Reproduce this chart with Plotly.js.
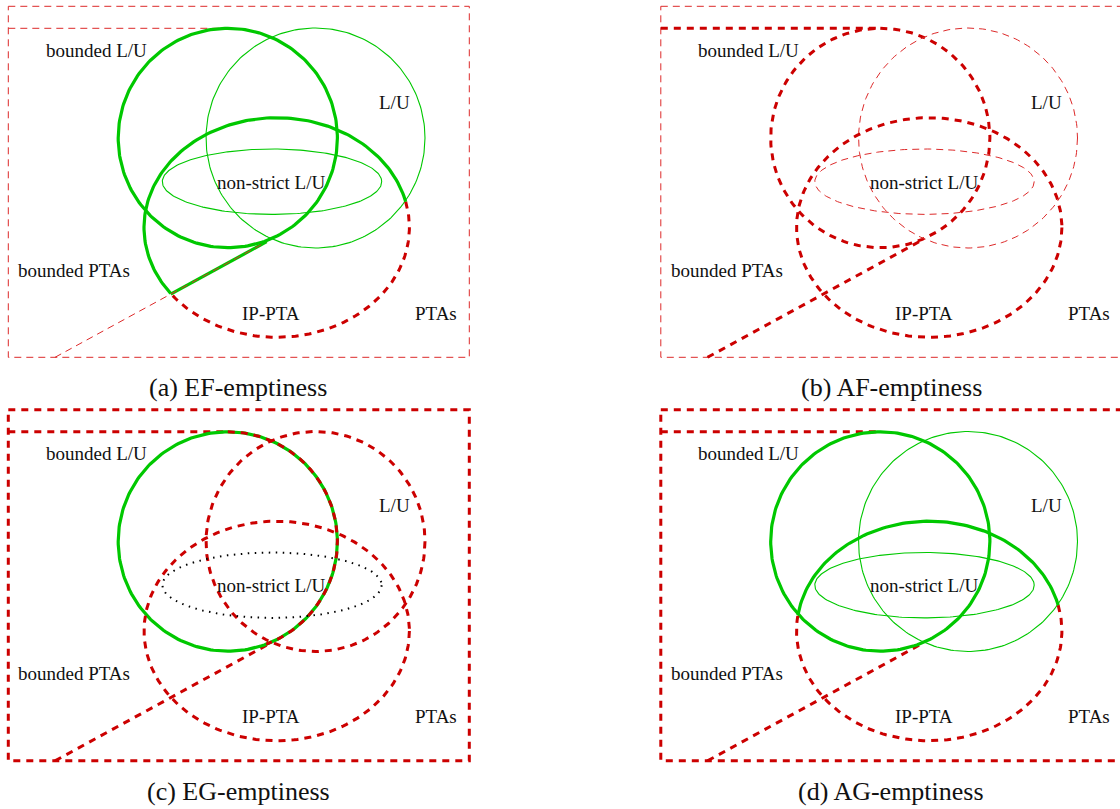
<!DOCTYPE html>
<html>
<head>
<meta charset="utf-8">
<script src="https://cdn.plot.ly/plotly-3.0.1.min.js"></script>
<style>
html,body{margin:0;padding:0;background:#fff;}
#chart{width:1120px;height:809px;}
</style>
</head>
<body>
<div id="chart"></div>
<script>
// ---- data ----
const panelCaptions = ['(a) EF-emptiness', '(b) AF-emptiness', '(c) EG-emptiness', '(d) AG-emptiness'];
const regionLabels = ['bounded L/U', 'L/U', 'non-strict L/U', 'bounded PTAs', 'IP-PTA', 'PTAs'];
const labelX = [96, 394, 271, 74, 271, 436];
const labelY = [50, 102, 182, 270, 313, 313];

// class ellipses (one panel's own coordinates): bounded L/U, L/U, non-strict L/U, IP-PTA
const ellipseNames = ['bounded L/U', 'L/U', 'non-strict L/U', 'IP-PTA'];
const ellipseCx = [227.8, 315.5, 272, 276.7];
const ellipseCy = [138, 138, 181.7, 227.5];
const ellipseRx = [109.6, 109.5, 109.7, 132.7];
const ellipseRy = [109.7, 110, 32.7, 109.8];

// PTAs box and bounded-PTAs border
const ptasBoxX = [8.3, 469.3];
const ptasBoxY = [6.3, 357.3];
const boundedTopX = [8.3, 227.8];
const boundedTopY = [28.3, 28.3];
const diagonalX = [55, 266.7];
const diagonalY = [357.3, 241.7];

// arc split angles (degrees) where decidable borders change
const ipSplitA = [143, 346.4];   // EF: green from..to
const ipSplitD = [188.3, 346.4]; // AG: green from..to
const bluOverlayC = [-90, 69.5]; // EG: red dashed over green

// panel placement
const panelDX = [0, 652.5, 0, 652.5];
const panelDY = [0, 0, 403.5, 403.5];
const captionX = [238, 891, 238, 891];
const captionY = [387, 387, 791, 791];

// ---- styles ----
const GREEN = '#00c800', RED = '#cc0000';
const S = {
  thickG: {color: GREEN, width: 3.2},
  thinG: {color: GREEN, width: 1.1},
  thickR: {color: RED, width: 3, dash: '7px,6px'},
  thinR: {color: '#dd2a2a', width: 1, dash: '7px,5px'},
  dotK: {color: '#000', width: 2, dash: '1.5px,5.5px'}
};

const traces = [];
function addPath(p, xs, ys, st) {
  traces.push({
    type: 'scatter', mode: 'lines', hoverinfo: 'skip',
    x: xs.map(v => v + panelDX[p]), y: ys.map(v => v + panelDY[p]),
    line: Object.assign({shape: 'linear'}, st)
  });
}
function addArc(p, e, t0, t1, st) {
  const xs = [], ys = [];
  const n = Math.max(8, Math.ceil(Math.abs(t1 - t0) / 1.5));
  for (let i = 0; i <= n; i++) {
    const t = (t0 + (t1 - t0) * i / n) * Math.PI / 180;
    xs.push(ellipseCx[e] + ellipseRx[e] * Math.cos(t));
    ys.push(ellipseCy[e] + ellipseRy[e] * Math.sin(t));
  }
  addPath(p, xs, ys, st);
}
function addBox(p, st) {
  addPath(p, [ptasBoxX[0], ptasBoxX[1], ptasBoxX[1], ptasBoxX[0], ptasBoxX[0]],
             [ptasBoxY[0], ptasBoxY[0], ptasBoxY[1], ptasBoxY[1], ptasBoxY[0]], st);
}
function diagPoint(x) {
  const f = (x - diagonalX[0]) / (diagonalX[1] - diagonalX[0]);
  return diagonalY[0] + f * (diagonalY[1] - diagonalY[0]);
}

// (a) EF
addBox(0, S.thinR);
addPath(0, boundedTopX, boundedTopY, S.thinR);
{
  const t = ipSplitA[0] * Math.PI / 180;
  const gx = ellipseCx[3] + ellipseRx[3] * Math.cos(t);
  addPath(0, [gx, diagonalX[1]], [diagPoint(gx), diagonalY[1]], S.thickG);
  addPath(0, diagonalX, diagonalY, S.thinR);
}
addArc(0, 0, 0, 360, S.thickG);
addArc(0, 1, 0, 360, S.thinG);
addArc(0, 2, 0, 360, S.thinG);
addArc(0, 3, ipSplitA[1] - 360, ipSplitA[0], S.thickR);
addArc(0, 3, ipSplitA[0], ipSplitA[1], S.thickG);

// (b) AF
addBox(1, S.thinR);
addPath(1, boundedTopX, boundedTopY, S.thickR);
addPath(1, diagonalX, diagonalY, S.thickR);
addArc(1, 0, -90, 270, S.thickR);
addArc(1, 1, 0, 360, S.thinR);
addArc(1, 2, 0, 360, S.thinR);
addArc(1, 3, 0, 360, S.thickR);

// (c) EG
addBox(2, S.thickR);
addPath(2, boundedTopX, boundedTopY, S.thickR);
addPath(2, diagonalX, diagonalY, S.thickR);
addArc(2, 0, 0, 360, S.thickG);
addArc(2, 0, bluOverlayC[0], bluOverlayC[1], S.thickR);
addArc(2, 1, 0, 360, S.thickR);
addArc(2, 2, 0, 360, S.dotK);
addArc(2, 3, 0, 360, S.thickR);

// (d) AG
addBox(3, S.thickR);
addPath(3, boundedTopX, boundedTopY, S.thickR);
addPath(3, diagonalX, diagonalY, S.thickR);
addArc(3, 0, 0, 360, S.thickG);
addArc(3, 1, 0, 360, S.thinG);
addArc(3, 2, 0, 360, S.thinG);
addArc(3, 3, ipSplitD[1] - 360, ipSplitD[0], S.thickR);
addArc(3, 3, ipSplitD[0], ipSplitD[1], S.thickG);

// ---- text ----
const annotations = [];
for (let p = 0; p < 4; p++) {
  regionLabels.forEach((txt, i) => {
    annotations.push({
      x: labelX[i] + panelDX[p], y: labelY[i] + panelDY[p], xref: 'x', yref: 'y',
      text: txt, showarrow: false, xanchor: 'center', yanchor: 'middle',
      font: {family: 'Liberation Serif, DejaVu Serif, serif', size: 19, color: '#111'}
    });
  });
  annotations.push({
    x: captionX[p], y: captionY[p], xref: 'x', yref: 'y',
    text: panelCaptions[p], showarrow: false, xanchor: 'center', yanchor: 'middle',
    font: {family: 'Liberation Serif, DejaVu Serif, serif', size: 26, color: '#111'}
  });
}

const layout = {
  width: 1120, height: 809,
  margin: {l: 0, r: 0, t: 0, b: 0},
  paper_bgcolor: '#fff', plot_bgcolor: '#fff',
  showlegend: false,
  xaxis: {range: [0, 1120], visible: false, fixedrange: true},
  yaxis: {range: [809, 0], visible: false, fixedrange: true},
  annotations: annotations
};
Plotly.newPlot('chart', traces, layout, {staticPlot: true, displayModeBar: false});
</script>
</body>
</html>
